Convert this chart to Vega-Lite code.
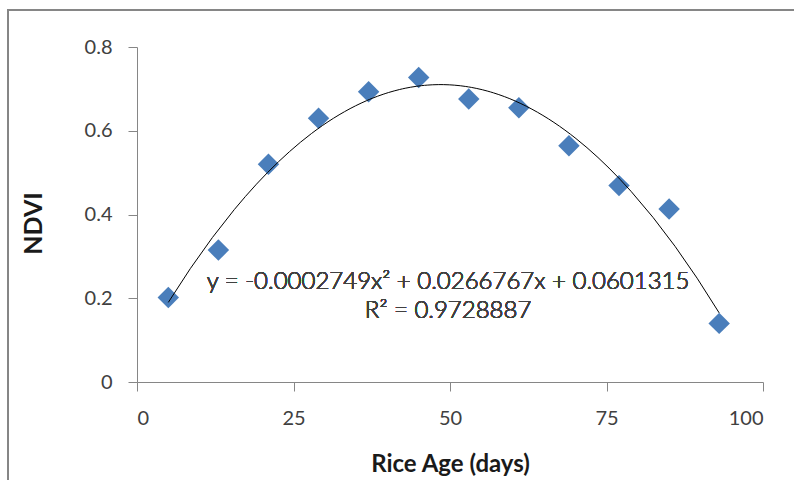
{
  "$schema": "https://vega.github.io/schema/vega-lite/v6.json",
  "width": 626,
  "height": 335,
  "autosize": "none",
  "padding": {"left": 137, "top": 47, "right": 31, "bottom": 98},
  "background": "white",
  "config": {"view": {"stroke": null}, "font": "Lato"},
  "data": {"values": [
    {"age": 5, "NDVI": 0.202},
    {"age": 13, "NDVI": 0.315},
    {"age": 21, "NDVI": 0.520},
    {"age": 29, "NDVI": 0.630},
    {"age": 37, "NDVI": 0.693},
    {"age": 45, "NDVI": 0.727},
    {"age": 53, "NDVI": 0.676},
    {"age": 61, "NDVI": 0.655},
    {"age": 69, "NDVI": 0.564},
    {"age": 77, "NDVI": 0.469},
    {"age": 85, "NDVI": 0.413},
    {"age": 93, "NDVI": 0.140}
  ]},
  "layer": [
    {
      "mark": {"type": "rect", "fill": null, "stroke": "#868686", "strokeWidth": 1.5, "clip": false},
      "encoding": {
        "x": {"datum": -20.6, "type": "quantitative"},
        "x2": {"datum": 200},
        "y": {"datum": 0.889, "type": "quantitative"},
        "y2": {"datum": -1}
      }
    },
    {
      "mark": {"type": "point", "shape": "diamond", "filled": true, "size": 460, "color": "#4A7EBB", "opacity": 1},
      "encoding": {
        "x": {
          "field": "age", "type": "quantitative",
          "scale": {"domain": [0, 100]},
          "axis": {
            "values": [0, 25, 50, 75, 100], "grid": false,
            "domainColor": "#868686", "tickColor": "#868686", "tickSize": 9,
            "labelFont": "Lato", "labelFontSize": 20, "labelColor": "#404040", "labelPadding": 17,
            "title": "Rice Age (days)", "titleFont": "Lato", "titleFontSize": 24, "titleFontWeight": "bold",
            "titleColor": "#1a1a1a", "titlePadding": 24
          }
        },
        "y": {
          "field": "NDVI", "type": "quantitative",
          "scale": {"domain": [0, 0.8]},
          "axis": {
            "values": [0, 0.2, 0.4, 0.6, 0.8], "grid": false, "format": ".1~f",
            "domainColor": "#868686", "tickColor": "#868686", "tickSize": 9,
            "labelFont": "Lato", "labelFontSize": 20, "labelColor": "#404040", "labelPadding": 16,
            "title": "NDVI", "titleFont": "Lato", "titleFontSize": 25, "titleFontWeight": "bold",
            "titleColor": "#1a1a1a", "titleY": 176, "titlePadding": 38
          }
        }
      }
    },
    {
      "transform": [{"regression": "NDVI", "on": "age", "method": "poly", "order": 2, "extent": [5, 93]}],
      "mark": {"type": "line", "color": "#000000", "strokeWidth": 1},
      "encoding": {
        "x": {"field": "age", "type": "quantitative"},
        "y": {"field": "NDVI", "type": "quantitative"}
      }
    },
    {
      "mark": {"type": "text", "font": "Lato", "fontSize": 24, "fontWeight": 300, "color": "#404040", "align": "center", "baseline": "middle"},
      "encoding": {
        "x": {"datum": 49.7, "type": "quantitative"},
        "y": {"datum": 0.238, "type": "quantitative"},
        "text": {"value": "y = -0.0002749x² + 0.0266767x + 0.0601315"}
      }
    },
    {
      "mark": {"type": "text", "font": "Lato", "fontSize": 24, "fontWeight": 300, "color": "#404040", "align": "center", "baseline": "middle"},
      "encoding": {
        "x": {"datum": 49.7, "type": "quantitative"},
        "y": {"datum": 0.169, "type": "quantitative"},
        "text": {"value": "R² = 0.9728887"}
      }
    }
  ]
}
